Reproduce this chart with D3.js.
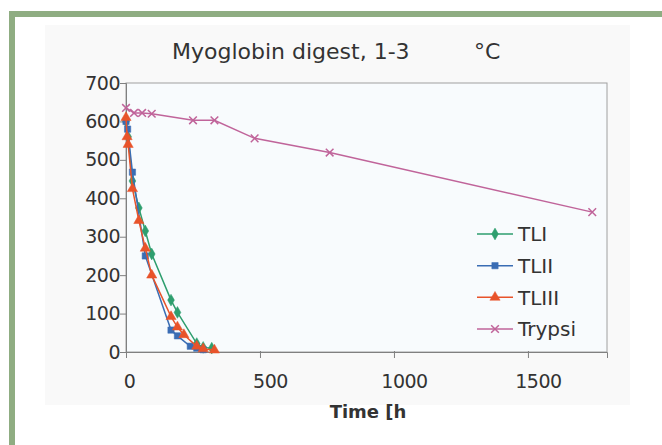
<!DOCTYPE html>
<html>
<head>
<meta charset="utf-8">
<script src="https://cdn.jsdelivr.net/npm/d3@7"></script>
<style>
    body { margin: 0; background: #fff; }
    svg { display: block; }
</style>
</head>
<body>
<div id="chart"></div>
<script>
// chart values: [time (h), amount]
const tl1 = [[0, 600], [8, 560], [24, 445], [48, 375], [72, 315], [96, 255], [168, 135], [192, 103], [264, 22], [288, 12], [320, 10]];
const tl2 = [[0, 600], [6, 580], [24, 468], [72, 250], [168, 57], [192, 42], [240, 15], [264, 10], [288, 6]];
const tl3 = [[0, 610], [4, 560], [8, 540], [24, 425], [48, 342], [72, 270], [96, 200], [168, 92], [192, 65], [216, 45], [264, 15], [288, 8], [330, 5]];
const trypsin = [[0, 635], [30, 622], [60, 622], [96, 620], [250, 603], [330, 603], [480, 556], [760, 519], [1740, 364]];

const seriesNames = ["TLI", "TLII", "TLIII", "Trypsi"];
const xTicks = [0, 500, 1000, 1500];
const yTicks = [0, 100, 200, 300, 400, 500, 600, 700];

const width = 662;
const height = 445;
const plot = { left: 126, top: 83, right: 607, bottom: 352 };

const svg = d3.select("#chart")
    .append("svg")
    .attr("width", width)
    .attr("height", height);

// frame of the photo
svg.append("rect")
    .attr("x", 45).attr("y", 25)
    .attr("width", 585).attr("height", 380)
    .attr("fill", "#f9f9f9");

svg.append("rect")
    .attr("x", 9).attr("y", 11)
    .attr("width", width - 9).attr("height", 6)
    .attr("fill", "#8fad82");
svg.append("rect")
    .attr("x", 9).attr("y", 11)
    .attr("width", 6).attr("height", height - 11)
    .attr("fill", "#8fad82");

const x = d3.scaleLinear()
    .domain([0, 1795])
    .range([plot.left, plot.right]);

const y = d3.scaleLinear()
    .domain([0, 700])
    .range([plot.bottom, plot.top]);

// plot area
svg.append("rect")
    .attr("x", plot.left).attr("y", plot.top)
    .attr("width", plot.right - plot.left)
    .attr("height", plot.bottom - plot.top)
    .attr("fill", "#f8fbfd")
    .attr("stroke", "#a0a0a0")
    .attr("stroke-width", 1);

const font = "'DejaVu Sans', Verdana, sans-serif";

// y axis
const yAxis = svg.append("g")
    .attr("transform", `translate(${plot.left},0)`)
    .call(d3.axisLeft(y).tickValues(yTicks).tickSize(6).tickPadding(0));
yAxis.select(".domain").attr("stroke", "#808080");
yAxis.selectAll(".tick line").attr("stroke", "#808080");
yAxis.selectAll("text")
    .attr("font-family", font)
    .attr("font-size", 19)
    .attr("letter-spacing", -0.5)
    .attr("fill", "#333");

// x axis
const xAxis = svg.append("g")
    .attr("transform", `translate(0,${plot.bottom})`)
    .call(d3.axisBottom(x).tickValues(xTicks).tickFormat(d3.format("d")).tickSize(6).tickPadding(17));
xAxis.select(".domain").attr("stroke", "#808080");
xAxis.selectAll(".tick line").attr("stroke", "#808080").attr("y1", -1).attr("y2", 6);
xAxis.selectAll("text")
    .attr("font-family", font)
    .attr("font-size", 19)
    .attr("letter-spacing", -0.5)
    .attr("fill", "#333")
    .attr("dx", d => d === 0 ? 3 : 10);

// title and axis label
svg.append("text")
    .attr("x", 172).attr("y", 59)
    .attr("font-family", font)
    .attr("font-size", 22)
    .attr("fill", "#333")
    .text("Myoglobin digest, 1-3");

svg.append("text")
    .attr("x", 474).attr("y", 59)
    .attr("font-family", font)
    .attr("font-size", 22)
    .attr("fill", "#333")
    .text("\u00b0C");

svg.append("text")
    .attr("x", 368).attr("y", 418)
    .attr("text-anchor", "middle")
    .attr("font-family", font)
    .attr("font-size", 18)
    .attr("font-weight", "bold")
    .attr("fill", "#333")
    .text("Time [h");

// marker shapes
const markers = {
    diamond: d3.symbol().type(d3.symbolDiamond).size(40),
    square: d3.symbol().type(d3.symbolSquare).size(40),
    triangle: d3.symbol().type(d3.symbolTriangle).size(45),
    cross: d3.symbol().type(d3.symbolX).size(40)
};

const series = [
    { name: seriesNames[0], data: tl1, color: "#2e9e6e", marker: "diamond" },
    { name: seriesNames[1], data: tl2, color: "#3a6db4", marker: "square" },
    { name: seriesNames[3], data: trypsin, color: "#c0649a", marker: "cross" },
    { name: seriesNames[2], data: tl3, color: "#e8532a", marker: "triangle" }
];

const line = d3.line()
    .x(d => x(d[0]))
    .y(d => y(d[1]));

series.forEach(s => {
    const g = svg.append("g");
    g.append("path")
        .datum(s.data)
        .attr("d", line)
        .attr("fill", "none")
        .attr("stroke", s.color)
        .attr("stroke-width", 1.5);

    g.selectAll("path.pt")
        .data(s.data)
        .enter()
        .append("path")
        .attr("class", "pt")
        .attr("transform", d => `translate(${x(d[0])},${y(d[1])})`)
        .attr("d", markers[s.marker])
        .attr("fill", s.marker === "cross" ? "none" : s.color)
        .attr("stroke", s.color)
        .attr("stroke-width", s.marker === "cross" ? 1.5 : 0.5);
});

// legend
const legendOrder = [series[0], series[1], series[3], series[2]];
const legendY = d3.scalePoint()
    .domain(seriesNames)
    .range([234, 329]);

const legend = svg.append("g");
legendOrder.forEach(s => {
    const ly = legendY(s.name);
    legend.append("line")
        .attr("x1", 477).attr("x2", 513)
        .attr("y1", ly).attr("y2", ly)
        .attr("stroke", s.color)
        .attr("stroke-width", 1.5);
    legend.append("path")
        .attr("transform", `translate(495,${ly})`)
        .attr("d", markers[s.marker])
        .attr("fill", s.marker === "cross" ? "none" : s.color)
        .attr("stroke", s.color)
        .attr("stroke-width", s.marker === "cross" ? 1.5 : 0.5);
    legend.append("text")
        .attr("x", 518).attr("y", ly)
        .attr("dy", "0.36em")
        .attr("font-family", font)
        .attr("font-size", 20)
        .attr("fill", "#333")
        .text(s.name);
});
</script>
</body>
</html>
